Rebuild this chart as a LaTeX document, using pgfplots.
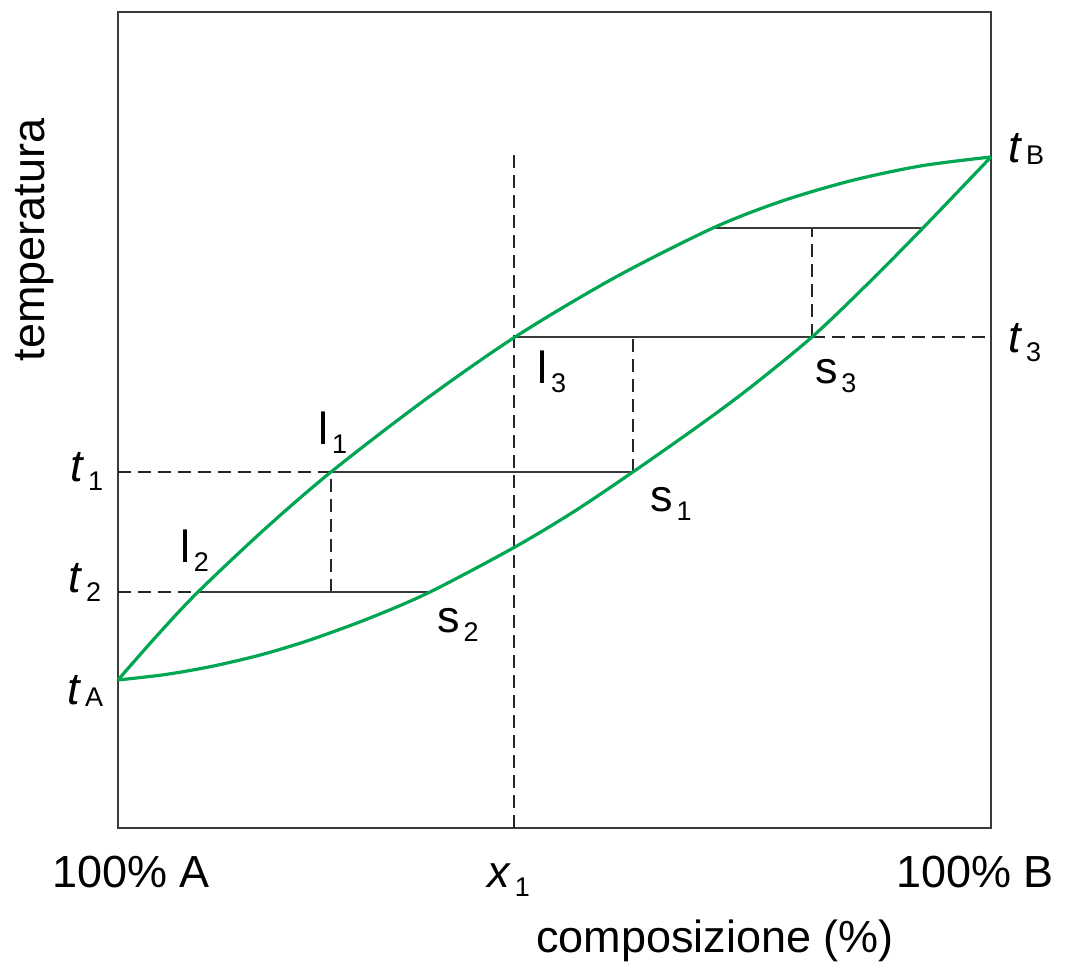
\documentclass[border=0pt]{standalone}
\usepackage{fontspec}
\setmainfont{Liberation Sans}
\usepackage{pgfplots}
\pgfplotsset{compat=1.18}
\definecolor{lgreen}{HTML}{00A651}
\definecolor{frame}{HTML}{3A3A3A}
\newcommand{\bigfnt}{\fontsize{22.5}{27}\selectfont}
\newcommand{\sbd}[1]{\hspace{1.8pt}\raisebox{-4.5pt}{\fontsize{13.5}{13.5}\selectfont #1}}
\newcommand{\sbl}[1]{\hspace{1.8pt}\raisebox{-1pt}{\fontsize{13.5}{13.5}\selectfont #1}}
\pgfplotstableread{
x y
0 18.14
4.58 23.71
9.16 28.92
16.78 36.60
24.40 43.63
34.94 52.30
45.48 60.17
56.82 67.40
68.16 73.53
76.12 76.85
84.08 79.35
92.04 81.15
100 82.23
}\liquidus
\pgfplotstableread{
x y
0 18.14
5.27 18.78
10.54 19.76
16.27 21.19
21.99 23.04
28.87 25.74
35.74 28.92
45.25 34.30
52.12 38.70
58.99 43.63
66.67 49.40
72.39 53.95
79.50 60.17
85.80 66.60
92.21 73.53
100 82.23
}\solidus
\begin{document}
\begin{tikzpicture}[every node/.style={font=\bigfnt, inner sep=0pt}]
\begin{axis}[
  scale only axis, width=436.5pt, height=408pt,
  xmin=0, xmax=100, ymin=0, ymax=100,
  ticks=none, clip=false,
  axis line style={draw=frame, line width=1.2pt},
  tie/.style={draw=frame, line width=1pt},
  dsh/.style={draw=black!85, line width=1.1pt, dash pattern=on 6.5pt off 3.5pt},
]
\path (axis cs:-13.52,-17.40) rectangle (axis cs:108.48,101.47);
% dashed guides
\addplot[dsh] coordinates {(45.36,0) (45.36,82.84)};
\addplot[dsh] coordinates {(0,43.63) (24.40,43.63)};
\addplot[dsh] coordinates {(0,28.92) (9.16,28.92)};
\addplot[dsh] coordinates {(79.50,60.17) (100,60.17)};
\addplot[dsh] coordinates {(24.40,28.92) (24.40,43.63)};
\addplot[dsh] coordinates {(58.99,43.63) (58.99,60.17)};
\addplot[dsh] coordinates {(79.50,60.17) (79.50,73.53)};
% tie lines
\addplot[tie] coordinates {(9.16,28.92) (35.74,28.92)};
\addplot[tie] coordinates {(24.40,43.63) (58.99,43.63)};
\addplot[tie] coordinates {(45.48,60.17) (79.50,60.17)};
\addplot[tie] coordinates {(68.16,73.53) (92.21,73.53)};
% curves
\addplot[lgreen, line width=1.6pt, smooth] table {\liquidus};
\addplot[lgreen, line width=1.6pt, smooth] table {\solidus};
% labels
\node[anchor=base west] at (axis cs:-5.50,42.40) {\textit{t}\sbd{1}};
\node[anchor=base west] at (axis cs:-5.73,28.80) {\textit{t}\sbd{2}};
\node[anchor=base west] at (axis cs:-5.84,15.07) {\textit{t}\sbl{A}};
\node[anchor=base west] at (axis cs:101.95,81.50) {\textit{t}\sbl{B}};
\node[anchor=base west] at (axis cs:101.95,58.33) {\textit{t}\sbd{3}};
\node[anchor=base west] at (axis cs:22.91,46.94) {l\sbd{1}};
\node[anchor=base west] at (axis cs:7.10,32.48) {l\sbd{2}};
\node[anchor=base west] at (axis cs:48.00,54.53) {l\sbd{3}};
\node[anchor=base west] at (axis cs:60.94,38.73) {s\sbd{1}};
\node[anchor=base west] at (axis cs:36.54,23.90) {s\sbd{2}};
\node[anchor=base west] at (axis cs:79.84,54.53) {s\sbd{3}};
\node[anchor=base] at (axis cs:1.49,-7.35) {100\% A};
\node[anchor=base] at (axis cs:98.17,-7.35) {100\% B};
\node[anchor=base west] at (axis cs:42.27,-7.35) {\textit{x}\sbd{1}};
\node[anchor=base] at (axis cs:68.38,-15.32) {composizione (\%)};
\node[rotate=90] at (axis cs:-9.51,72.06) {temperatura};
\end{axis}
\end{tikzpicture}
\end{document}
